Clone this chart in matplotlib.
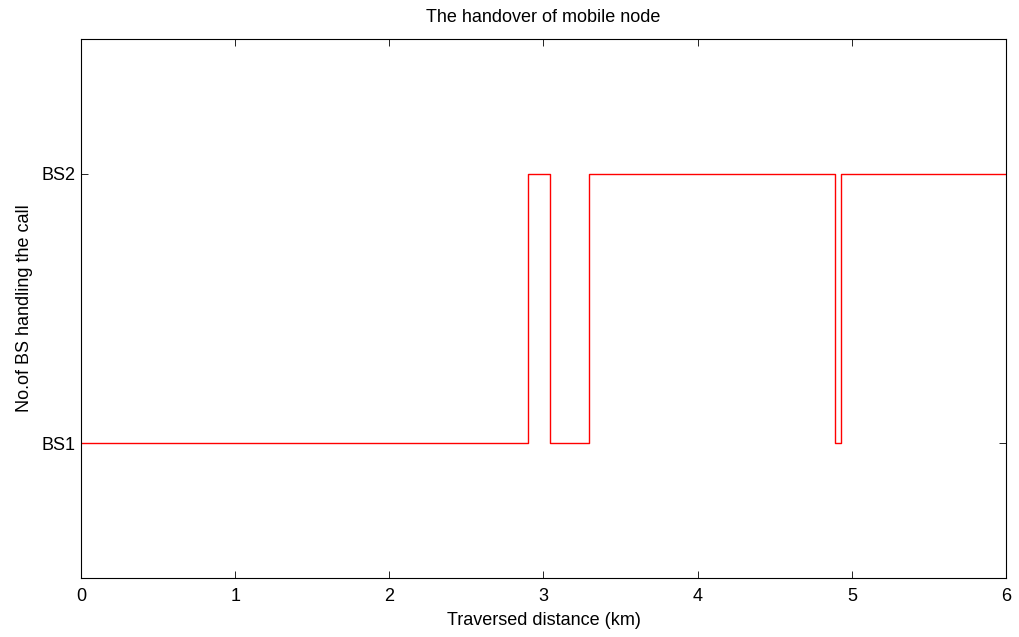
import numpy as np
import matplotlib
matplotlib.use('Agg')
import matplotlib.pyplot as plt

# handover points along the route (km) and serving BS after each point
dist_km = [0.0, 2.897, 3.044, 3.295, 4.891, 4.928, 6.0]
bs_no = [1, 2, 1, 2, 1, 2, 2]
ytick_labels = ['BS1', 'BS2']

plt.rcParams['font.family'] = ['Liberation Sans', 'DejaVu Sans']
plt.rcParams['font.size'] = 13

fig = plt.figure(figsize=(10.2, 6.37), dpi=100)
ax = fig.add_axes([81/1020, 1 - 578/637, (1006-81)/1020, (578-39)/637])

ax.step(dist_km, bs_no, where='post', color='red', lw=1)

ax.set_xlim(0, 6)
ax.set_ylim(0.5, 2.5)
ax.set_xticks(np.arange(0, 7, 1))
ax.set_yticks([1, 2])
ax.set_yticklabels(ytick_labels)
ax.tick_params(direction='in', top=True, right=True, length=5, width=0.6, labelsize=13)
ax.tick_params(axis='x', pad=7)
ax.tick_params(axis='y', pad=4)
for s in ax.spines.values():
    s.set_linewidth(0.8)

ax.set_title('The handover of mobile node', fontsize=13, pad=12)
ax.set_xlabel('Traversed distance (km)', fontsize=13, labelpad=5)
ax.set_ylabel('No.of BS handling the call', fontsize=13, labelpad=6)

fig.savefig('out.png', dpi=100)
